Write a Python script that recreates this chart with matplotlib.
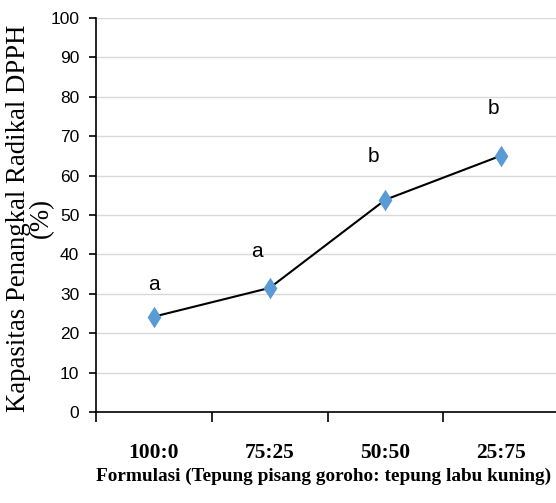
import matplotlib
matplotlib.use("Agg")
import matplotlib.pyplot as plt

formulasi = ["100:0", "75:25", "50:50", "25:75"]
kapasitas = [24.2, 31.5, 53.9, 65.1]
notasi = ["a", "a", "b", "b"]

# where each significance letter sits relative to its point (points)
notasi_offset = [(0, 23), (-9, 26), (-9, 31), (-6, 34)]

# slightly tall diamond marker
diamond = [(0, 1), (0.64, 0), (0, -1), (-0.64, 0), (0, 1)]

fig = plt.figure(figsize=(5.56, 5.03), dpi=100)
ax = fig.add_axes([0.1727, 0.181, 0.833, 0.783])

x = list(range(len(formulasi)))
ax.plot(x, kapasitas, color="black", lw=1.5, zorder=2)
ax.plot(x, kapasitas, ls="none", marker=diamond, ms=15.5, mew=0, color="#5B9BD5", zorder=3)

for xi, yi, t, off in zip(x, kapasitas, notasi, notasi_offset):
    ax.annotate(t, (xi, yi), xytext=off, textcoords="offset points",
                ha="center", va="center", fontsize=15, family="Liberation Sans")

ax.set_xlim(-0.5, 3.5)
ax.set_ylim(0, 100)
ax.set_yticks(range(0, 101, 10))
ax.yaxis.grid(True, color="#d9d9d9", lw=1)
ax.set_axisbelow(True)

ax.set_xticks([i - 0.5 for i in range(5)])
ax.set_xticklabels([])
ax.set_xticks(x, minor=True)
ax.set_xticklabels(formulasi, minor=True, family="Liberation Serif",
                   fontweight="bold", fontsize=15.5)
ax.tick_params(axis="x", which="minor", length=0, pad=22)
ax.tick_params(axis="x", which="major", length=7, width=1.2, direction="out")
ax.tick_params(axis="y", length=5, width=1.2, pad=7)
for lbl in ax.get_yticklabels():
    lbl.set_fontfamily("Liberation Sans")
    lbl.set_fontsize(12.5)

for s in ["top", "right"]:
    ax.spines[s].set_visible(False)
for s in ["left", "bottom"]:
    ax.spines[s].set_linewidth(1.2)

fig.text(0.582, 0.0537, "Formulasi (Tepung pisang goroho: tepung labu kuning)",
         family="Liberation Serif", fontweight="bold", fontsize=13.9,
         ha="center", va="center")
fig.text(0.054, 0.566, "Kapasitas Penangkal Radikal DPPH\n(%)", family="Liberation Serif",
         fontsize=19.3, linespacing=0.85, rotation=90, ha="center", va="center",
         multialignment="center")

fig.savefig("out.png", dpi=100)
